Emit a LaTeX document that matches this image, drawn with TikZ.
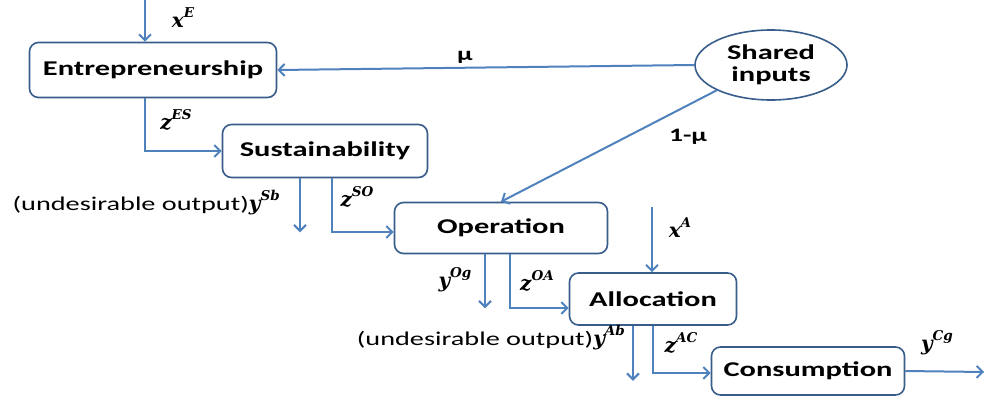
\documentclass[tikz,border=0pt]{standalone}
\usepackage{fontspec}
\usetikzlibrary{arrows.meta,shapes.geometric}
\setmainfont{Carlito}
\newfontfamily\boxfont[FakeStretch=1.45]{Carlito}
\newfontfamily\lblfont{DejaVu Serif}
\newcommand{\mylbl}[2]{{\lblfont\bfseries\itshape\fontsize{20}{22}\selectfont #1\raisebox{0.5em}{\fontsize{13.5}{14}\selectfont #2}}}
\definecolor{linec}{RGB}{79,129,189}
\definecolor{borderc}{RGB}{56,93,138}
\begin{document}
\begin{tikzpicture}[x=1pt,y=-1pt,
  box/.style={draw=borderc,line width=1.6pt,rounded corners=9pt,fill=white,
    font=\boxfont\fontsize{21}{22}\selectfont\bfseries,inner sep=0pt},
  arr/.style={draw=linec,line width=2pt,-{Straight Barb[length=6pt,width=12pt,line width=2pt]}},
  lab/.style={inner sep=0pt},
  greek/.style={inner sep=0pt,font=\boxfont\fontsize{19}{21}\selectfont\bfseries},
  plain/.style={inner sep=0pt,font=\boxfont\fontsize{19.5}{20}\selectfont}]
\useasboundingbox (0,0) rectangle (984,399);
\node[box,minimum width=247pt,minimum height=55pt] (E) at (153,70) {Entrepreneurship};
\node[box,minimum width=205pt,minimum height=53pt] (S) at (325,151) {Sustainability};
\node[box,minimum width=213pt,minimum height=51pt] (O) at (501,228) {Operation};
\node[box,minimum width=167pt,minimum height=52pt] (A) at (653,299) {Allocation};
\node[box,minimum width=193pt,minimum height=48pt] (C) at (808,371) {Consumption};
\node[ellipse,draw=borderc,line width=1.6pt,minimum width=152pt,minimum height=70pt,
  inner sep=0pt,align=center,font=\boxfont\fontsize{21}{22}\selectfont\bfseries] (SI) at (771,65) {Shared\\inputs};
\coordinate (xE) at (145,0);
\coordinate (xA) at (652,207);
\coordinate (yCg) at (984,372);
\draw[arr] (xE) -- (xE |- E.north);
\draw[arr] (SI.west) -- (E.east);
\draw[arr] (SI.south west) -- (O.north);
\draw[arr] ([xshift=-8pt]E.south) |- (S.west);
\draw[arr] ([xshift=-25pt]S.south) -- +(0,54);
\draw[arr] ([xshift=7pt]S.south) |- ([yshift=-4pt]O.west);
\draw[arr] ([xshift=-16pt]O.south) -- +(0,54);
\draw[arr] ([xshift=9pt]O.south) |- ([yshift=-9pt]A.west);
\draw[arr] (xA) -- (xA |- A.north);
\draw[arr] ([xshift=-20pt]A.south) -- +(0,55);
\draw[arr] (A.south) |- ([yshift=-2pt]C.west);
\draw[arr] (C.east) -- (yCg);
\node[lab] (lxE) at (183,18) {\mylbl{x}{E}};
\node[greek] (lmu) at (465,57) {μ};
\node[greek] (l1mu) at (688,137) {1-μ};
\node[lab] (lzES) at (176,120) {\mylbl{z}{ES}};
\node[lab] (lzSO) at (357,197) {\mylbl{z}{SO}};
\node[plain,anchor=east] (lySb) at (280,203) {(undesirable output)\mylbl{y}{Sb}};
\node[lab] (lyOg) at (455,280) {\mylbl{y}{Og}};
\node[lab] (lzOA) at (537,281) {\mylbl{z}{OA}};
\node[lab] (lxA) at (680,228) {\mylbl{x}{A}};
\node[plain,anchor=east] (lyAb) at (625,338) {(undesirable output)\mylbl{y}{Ab}};
\node[lab] (lzAC) at (681,343) {\mylbl{z}{AC}};
\node[lab] (lyCg) at (937,343) {\mylbl{y}{Cg}};
\end{tikzpicture}
\end{document}
